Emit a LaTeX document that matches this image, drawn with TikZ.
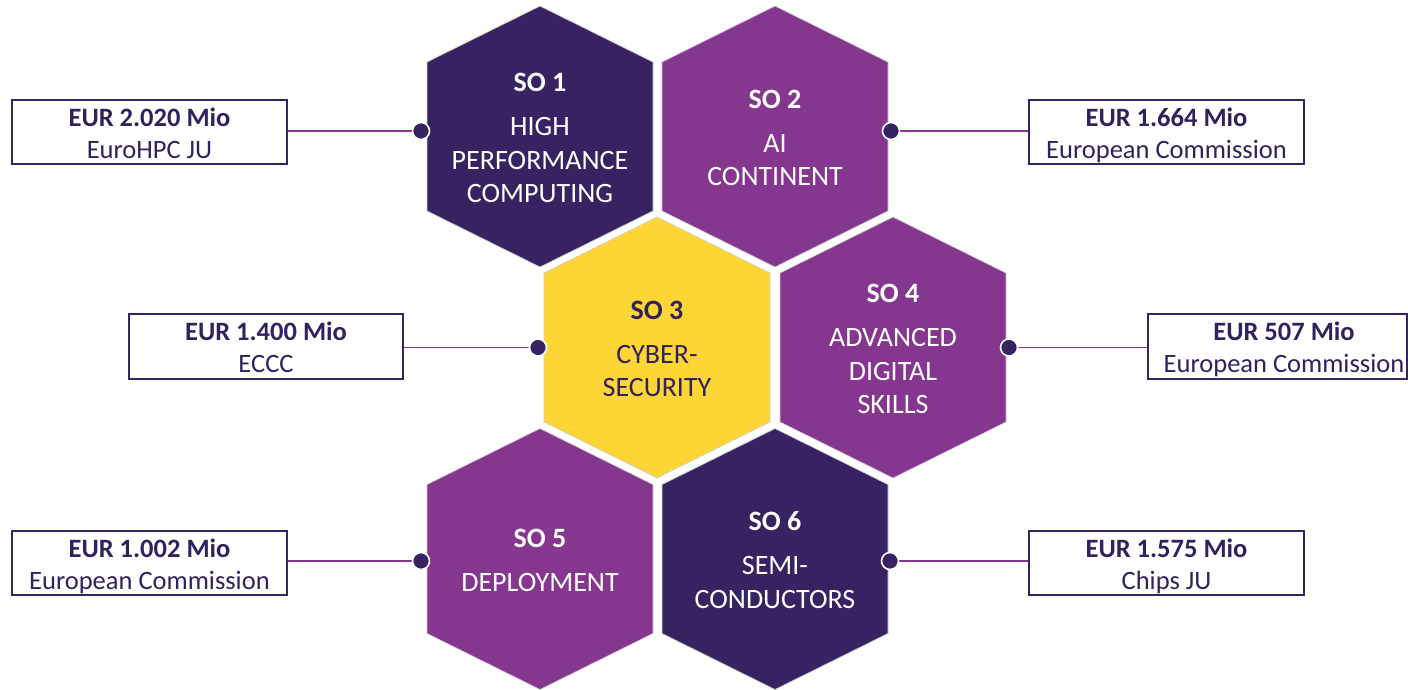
\documentclass[tikz,border=0pt]{standalone}
\usepackage{fontspec}
\setmainfont{Carlito}
\definecolor{dkp}{HTML}{382362}
\definecolor{mdp}{HTML}{85368F}
\definecolor{ylw}{HTML}{FDD535}
\definecolor{txtd}{HTML}{33215E}
\newcommand{\hexfill}[3]{%
  \filldraw[fill=#3, draw=black!18, line width=0.7pt]
    (#1,#2) ++(0,-130.5) -- ++(113,56) -- ++(0,149) -- ++(-113,56)
    -- ++(-113,-56) -- ++(0,-149) -- cycle;}
\newcommand{\hexlines}[2]{{\fontsize{28}{33.5}\selectfont
  \begin{tabular}{@{}c@{}}\textbf{#1}\\[10.5pt]#2\end{tabular}}}
\newcommand{\boxlines}[2]{{\fontsize{26.5}{32}\selectfont
  \begin{tabular}{@{}c@{}}\textbf{#1}\\#2\end{tabular}}}
\begin{document}
\begin{tikzpicture}[x=1pt,y=-1pt,
  hextext/.style={inner sep=0pt, text=white, yshift=-4pt},
  box/.style={draw=dkp, line width=1.5pt, fill=white, text=txtd,
    minimum width=275pt, minimum height=64pt, inner sep=0pt},
  boxtext/.style={inner sep=0pt, text=txtd, yshift=-4pt},
  dotn/.style={circle, fill=dkp, draw=white, line width=1.6pt,
    minimum size=17pt, inner sep=0pt},
  link/.style={draw=mdp, line width=1.3pt}]
\useasboundingbox (0,0) rectangle (1408,689);
\fill[white] (0,0) rectangle (1408,689);

% hexagons
\hexfill{540}{136.5}{dkp}
\hexfill{775}{136.5}{mdp}
\hexfill{657}{347.5}{ylw}
\hexfill{893}{347.5}{mdp}
\hexfill{540}{559}{mdp}
\hexfill{775}{559}{dkp}

\node[hextext] (h1) at (540,136.5) {\hexlines{SO 1}{HIGH\\PERFORMANCE\\COMPUTING}};
\node[hextext] (h2) at (775,136.5) {\hexlines{SO 2}{AI\\CONTINENT}};
\node[hextext, text=txtd] (h3) at (657,347.5) {\hexlines{SO 3}{CYBER-\\SECURITY}};
\node[hextext] (h4) at (893,347.5) {\hexlines{SO 4}{ADVANCED\\DIGITAL\\SKILLS}};
\node[hextext] (h5) at (540,559) {\hexlines{SO 5}{DEPLOYMENT}};
\node[hextext] (h6) at (775,559) {\hexlines{SO 6}{SEMI-\\CONDUCTORS}};

% boxes
\node[box] (b1) at (149.5,132) {};
\node[box] (b2) at (1166.5,132) {};
\node[box, minimum width=274pt, minimum height=65pt] (b3) at (266,346.5) {};
\node[box, minimum width=259pt, minimum height=65pt] (b4) at (1277.5,346.5) {};
\node[box] (b5) at (149.5,563) {};
\node[box] (b6) at (1166.5,563) {};

\node[boxtext] (t1) at (b1) {\boxlines{EUR 2.020 Mio}{EuroHPC JU}};
\node[boxtext] (t2) at (b2) {\boxlines{EUR 1.664 Mio}{European Commission}};
\node[boxtext] (t3) at (b3) {\boxlines{EUR 1.400 Mio}{ECCC}};
\node[boxtext, xshift=6.5pt] (t4) at (b4) {\boxlines{EUR 507 Mio}{European Commission}};
\node[boxtext] (t5) at (b5) {\boxlines{EUR 1.002 Mio}{European Commission}};
\node[boxtext] (t6) at (b6) {\boxlines{EUR 1.575 Mio}{Chips JU}};

% dot coordinates
\coordinate (p1) at (421,131);
\coordinate (p2) at (891,131);
\coordinate (p3) at (538,347.5);
\coordinate (p4) at (1009,347.5);
\coordinate (p5) at (421,561);
\coordinate (p6) at (890,561);

% connectors
\draw[link] (p1 -| b1.east) -- (p1);
\draw[link] (p2 -| b2.west) -- (p2);
\draw[link] (p3 -| b3.east) -- (p3);
\draw[link] (p4 -| b4.west) -- (p4);
\draw[link] (p5 -| b5.east) -- (p5);
\draw[link] (p6 -| b6.west) -- (p6);

\node[dotn] (d1) at (p1) {};
\node[dotn] (d2) at (p2) {};
\node[dotn] (d3) at (p3) {};
\node[dotn] (d4) at (p4) {};
\node[dotn] (d5) at (p5) {};
\node[dotn] (d6) at (p6) {};
\end{tikzpicture}
\end{document}
